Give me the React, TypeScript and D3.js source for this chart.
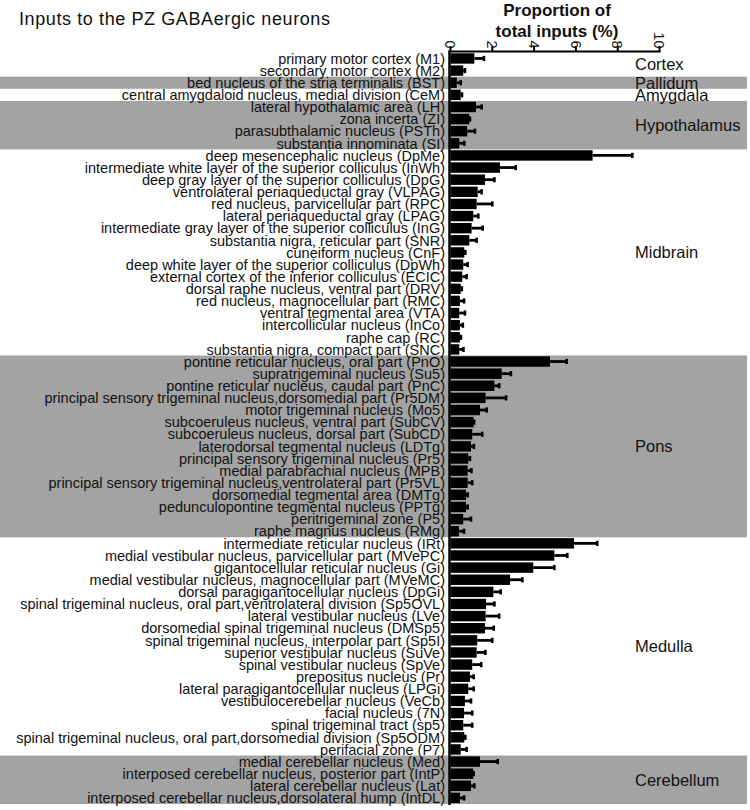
import React from "react";
import * as d3 from "d3";

const chartTitle = "Inputs to the PZ GABAergic neurons";
const axisTitleLines = ["Proportion of", "total inputs (%)"];
const tickValues = [0, 2, 4, 6, 8, 10];

const regionNames = ["Cortex", "Pallidum", "Amygdala", "Hypothalamus", "Midbrain", "Pons", "Medulla", "Cerebellum"];
const regionSizes = [2, 1, 1, 4, 17, 15, 18, 4];
const regionShaded = [false, true, false, true, false, true, false, true];

const nuclei = [
  "primary motor cortex (M1)",
  "secondary motor cortex (M2)",
  "bed nucleus of the stria terminalis (BST)",
  "central amygdaloid nucleus, medial division (CeM)",
  "lateral hypothalamic area (LH)",
  "zona incerta (ZI)",
  "parasubthalamic nucleus (PSTh)",
  "substantia innominata (SI)",
  "deep mesencephalic nucleus (DpMe)",
  "intermediate white layer of the superior colliculus (InWh)",
  "deep gray layer of the superior colliculus (DpG)",
  "ventrolateral periaqueductal gray (VLPAG)",
  "red nucleus, parvicellular part (RPC)",
  "lateral periaqueductal gray (LPAG)",
  "intermediate gray layer of the superior colliculus (InG)",
  "substantia nigra, reticular part (SNR)",
  "cuneiform nucleus (CnF)",
  "deep white layer of the superior colliculus (DpWh)",
  "external cortex of the inferior colliculus (ECIC)",
  "dorsal raphe nucleus, ventral part (DRV)",
  "red nucleus, magnocellular part (RMC)",
  "ventral tegmental area (VTA)",
  "intercollicular nucleus (InCo)",
  "raphe cap (RC)",
  "substantia nigra, compact part (SNC)",
  "pontine reticular nucleus, oral part (PnO)",
  "supratrigeminal nucleus (Su5)",
  "pontine reticular nucleus, caudal part (PnC)",
  "principal sensory trigeminal nucleus,dorsomedial part (Pr5DM)",
  "motor trigeminal nucleus (Mo5)",
  "subcoeruleus nucleus, ventral part (SubCV)",
  "subcoeruleus nucleus, dorsal part (SubCD)",
  "laterodorsal tegmental nucleus (LDTg)",
  "principal sensory trigeminal nucleus (Pr5)",
  "medial parabrachial nucleus (MPB)",
  "principal sensory trigeminal nucleus,ventrolateral part (Pr5VL)",
  "dorsomedial tegmental area (DMTg)",
  "pedunculopontine tegmental nucleus (PPTg)",
  "peritrigeminal zone (P5)",
  "raphe magnus nucleus (RMg)",
  "intermediate reticular nucleus (IRt)",
  "medial vestibular nucleus, parvicellular part (MVePC)",
  "gigantocellular reticular nucleus (Gi)",
  "medial vestibular nucleus, magnocellular part (MVeMC)",
  "dorsal paragigantocellular nucleus (DpGi)",
  "spinal trigeminal nucleus, oral part,ventrolateral division (Sp5OVL)",
  "lateral vestibular nucleus (LVe)",
  "dorsomedial spinal trigeminal nucleus (DMSp5)",
  "spinal trigeminal nucleus, interpolar part (Sp5I)",
  "superior vestibular nucleus (SuVe)",
  "spinal vestibular nucleus (SpVe)",
  "prepositus nucleus (Pr)",
  "lateral paragigantocellular nucleus (LPGi)",
  "vestibulocerebellar nucleus (VeCb)",
  "facial nucleus (7N)",
  "spinal trigeminal tract (sp5)",
  "spinal trigeminal nucleus, oral part,dorsomedial division (Sp5ODM)",
  "perifacial zone (P7)",
  "medial cerebellar nucleus (Med)",
  "interposed cerebellar nucleus, posterior part (IntP)",
  "lateral cerebellar nucleus (Lat)",
  "interposed cerebellar nucleus,dorsolateral hump (IntDL)",
];

const means = [
  1.14, 0.61,
  0.30,
  0.49,
  1.22, 0.90, 0.80, 0.42,
  6.80, 2.37, 1.65, 1.30, 1.25, 1.09, 1.01, 0.90, 0.66, 0.61, 0.56, 0.49, 0.45, 0.42, 0.45, 0.45, 0.42,
  4.76, 2.45, 2.10, 1.68, 1.41, 1.11, 1.04, 0.98, 0.85, 0.82, 0.82, 0.74, 0.74, 0.61, 0.40,
  5.91, 4.97, 3.96, 2.85, 2.05, 1.70, 1.68, 1.65, 1.28, 1.25, 1.04, 0.93, 0.85, 0.69, 0.65, 0.61, 0.66, 0.49,
  1.41, 1.09, 0.98, 0.45,
];

const errors = [
  0.46, 0.08,
  0.19,
  0.06,
  0.27, 0.03, 0.37, 0.24,
  1.90, 0.75, 0.45, 0.19, 0.75, 0.24, 0.53, 0.35, 0.05, 0.21, 0.21, 0.05, 0.20, 0.27, 0.14, 0.05, 0.20,
  0.80, 0.44, 0.23, 0.98, 0.32, 0.02, 0.48, 0.14, 0.08, 0.18, 0.22, 0.08, 0.08, 0.37, 0.25,
  1.11, 0.62, 1.01, 0.59, 0.35, 0.40, 0.65, 0.42, 0.72, 0.42, 0.43, 0.18, 0.26, 0.29, 0.39, 0.43, 0.05, 0.28,
  0.85, 0.02, 0.16, 0.20,
];

const FONT = "'Liberation Sans', Arial, Helvetica, sans-serif";

export default function App() {
  const W = 750;
  const H = 810;
  const x = d3.scaleLinear().domain([0, 10]).range([450.5, 659.5]);
  const y = d3
    .scaleBand<string>()
    .domain(nuclei)
    .range([52.4, 804])
    .paddingInner(0.14)
    .paddingOuter(0.07);
  const step = y.step();
  const rowTop = (i: number) => (y(nuclei[i]) as number) - (step * 0.14) / 2;

  let start = 0;
  const regions = regionNames.map((name, k) => {
    const s = start;
    start += regionSizes[k];
    return { name, first: s, last: start - 1, shaded: regionShaded[k] };
  });

  const axisY = 51.5;

  return (
    <svg
      width={W}
      height={H}
      style={{ position: "absolute", left: 0, top: 0, background: "#fff" }}
      fontFamily={FONT}
    >
      {regions.map((r) =>
        r.shaded ? (
          <rect
            key={"band-" + r.name}
            x={0}
            y={rowTop(r.first)}
            width={747}
            height={rowTop(r.last) + step - rowTop(r.first)}
            fill="#a3a3a3"
          />
        ) : null
      )}

      <text x={19} y={24.5} fontSize={18} letterSpacing={0.6} fill="#111">
        {chartTitle}
      </text>

      {axisTitleLines.map((t, i) => (
        <text
          key={t}
          x={557}
          y={16 + i * 20.5}
          fontSize={17}
          fontWeight="bold"
          textAnchor="middle"
          fill="#111"
        >
          {t}
        </text>
      ))}

      {nuclei.map((n, i) => {
        const cy = (y(n) as number) + y.bandwidth() / 2;
        return (
          <text key={"lab-" + i} x={445} y={cy} dy="0.36em" fontSize={14.5} textAnchor="end" fill="#111">
            {n}
          </text>
        );
      })}

      {nuclei.map((n, i) => (
        <rect
          key={"bar-" + i}
          x={x(0)}
          y={y(n)}
          width={x(means[i]) - x(0)}
          height={y.bandwidth()}
          fill="#000"
        />
      ))}

      {nuclei.map((n, i) => {
        const cy = (y(n) as number) + y.bandwidth() / 2;
        const xe = x(means[i] + errors[i]);
        return (
          <g key={"err-" + i}>
            <line x1={x(means[i])} x2={xe} y1={cy} y2={cy} stroke="#000" strokeWidth={2.8} />
            <line x1={xe} x2={xe} y1={cy - 2.6} y2={cy + 2.6} stroke="#000" strokeWidth={2.6} />
          </g>
        );
      })}

      <line x1={x(0) - 1} x2={x(0) - 1} y1={axisY - 1} y2={805} stroke="#000" strokeWidth={2.5} />
      <line x1={x(0) - 2} x2={x(10) + 1} y1={axisY} y2={axisY} stroke="#000" strokeWidth={2.2} />
      {tickValues.map((t) => (
        <g key={"tick-" + t}>
          <line x1={x(t)} x2={x(t)} y1={axisY} y2={axisY - 5.5} stroke="#000" strokeWidth={2} />
          <text
            transform={`translate(${x(t)},${axisY - 3}) rotate(90)`}
            textAnchor="end"
            dy="0.36em"
            fontSize={14.5}
            fill="#111"
          >
            {t}
          </text>
        </g>
      ))}

      {regions.map((r) => {
        const top = rowTop(r.first);
        const bottom = rowTop(r.last) + step;
        return (
          <text key={"reg-" + r.name} x={635} y={(top + bottom) / 2 + 5.8} fontSize={16.5} fill="#111">
            {r.name}
          </text>
        );
      })}
    </svg>
  );
}
